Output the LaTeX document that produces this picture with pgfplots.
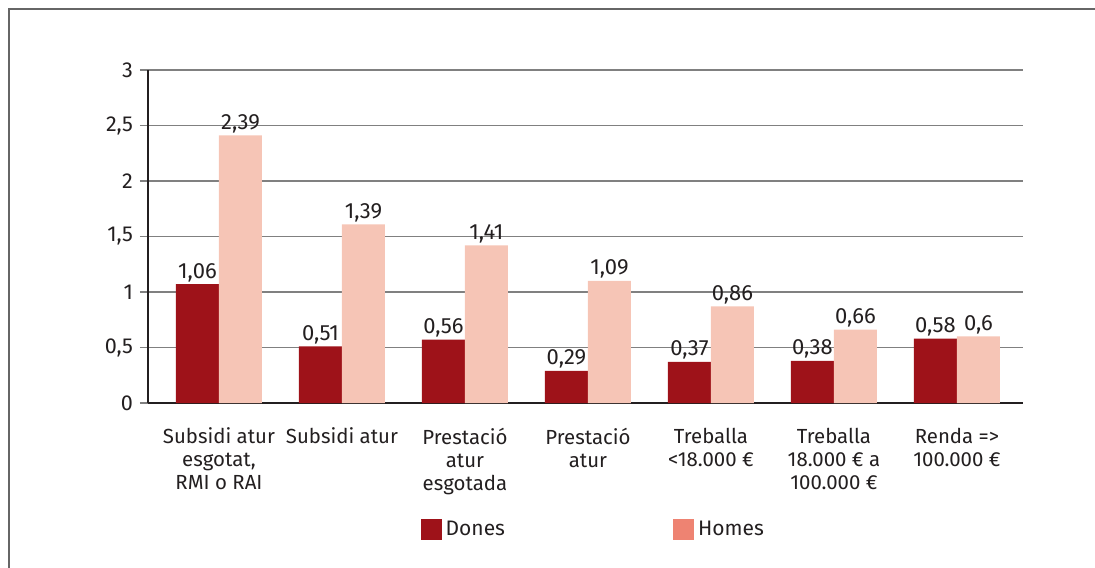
\documentclass[border=0pt]{standalone}
\usepackage{fontspec}
\setmainfont{Fira Sans}
\usepackage{pgfplots}
\pgfplotsset{compat=1.18}
\definecolor{dones}{HTML}{9E1219}
\definecolor{homesbar}{HTML}{F6C5B6}
\definecolor{homesleg}{HTML}{EE8372}
\definecolor{txt}{HTML}{231F20}
\begin{document}
\begin{tikzpicture}
\useasboundingbox (-74pt,-82pt) rectangle (473.5pt,201.5pt);
\draw[gray!80!black,line width=0.6pt] (-69.5pt,-90pt) -- (-69.5pt,197pt) -- (480pt,197pt);
\begin{axis}[
  scale only axis, width=437.5pt, height=166.5pt,
  ybar=0pt, bar width=21.5pt,
  xmin=-0.577, xmax=6.537, ymin=0, ymax=3,
  ytick={0,0.5,...,3},
  xtick={0,...,6},
  xticklabels={{Subsidi atur\\esgotat,\\RMI o RAI},{Subsidi atur},{Prestació\\atur\\esgotada},{Prestació\\atur},{Treballa\\<18.000 €},{Treballa\\18.000 € a\\100.000 €},{Renda =>\\100.000 €}},
  xticklabel style={align=center, anchor=north, yshift=-5pt, font=\fontsize{10.2}{11.5}\selectfont, text=txt},
  yticklabel style={font=\fontsize{10.8}{11}\selectfont, text=txt},
  /pgf/number format/use comma,
  /pgf/number format/assume math mode=true,
  x tick style={draw=none},
  y tick style={gray, line width=0.6pt},
  tick align=outside, major tick length=4pt,
  axis x line*=bottom, axis y line*=left,
  axis line style={-, line width=1.2pt, txt},
  ymajorgrids, grid style={gray, line width=0.6pt},
  nodes near coords, point meta=explicit symbolic,
  every node near coord/.append style={font=\fontsize{11}{11}\selectfont, text=txt, inner sep=1pt},
  legend columns=2,
  legend style={at={(axis description cs:0.51,-0.381)}, anchor=center, draw=none, fill=none,
    font=\fontsize{10.5}{11}\selectfont, text=txt,
    /tikz/every even column/.append style={column sep=82pt}},
  legend image code/.code={\fill[#1, draw=none] (0pt,-5.25pt) rectangle (10.5pt,5.25pt);},
]
\addplot[fill=dones, draw=none, bar shift=-10.75pt, forget plot] coordinates {
  (0,1.07) [1,06] (1,0.51) [0,51] (2,0.57) [0,56] (3,0.29) [0,29]
  (4,0.37) [0,37] (5,0.38) [0,38] (6,0.58) [0,58]};
\addplot[fill=homesbar, draw=none, bar shift=10.75pt, forget plot] coordinates {
  (0,2.41) [2,39] (1,1.61) [1,39] (2,1.42) [1,41] (3,1.10) [1,09]
  (4,0.87) [0,86] (5,0.66) [0,66] (6,0.60) [0,6]};
\addlegendimage{fill=dones, draw=none}
\addlegendimage{fill=homesleg, draw=none}
\legend{Dones,Homes}
\end{axis}
\end{tikzpicture}
\end{document}
